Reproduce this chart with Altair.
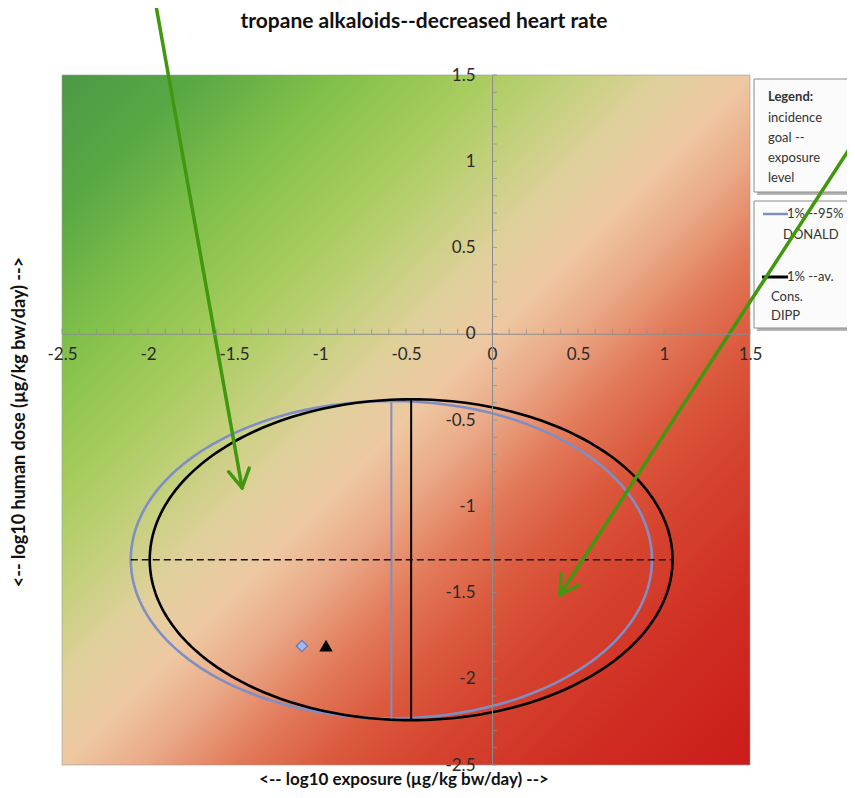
import numpy as np
import pandas as pd
import altair as alt

# ---------------- data ----------------
x_domain = [-2.5, 1.5]
y_domain = [-2.5, 1.5]
major_ticks = [-2.5, -2.0, -1.5, -1.0, -0.5, 0.0, 0.5, 1.0, 1.5]
minor_ticks = [round(-2.5 + 0.1 * i, 1) for i in range(41)]

ellipse_names = ["1% --95% DONALD", "1% --av. Cons. DIPP"]
ellipse_cx = [-0.585, -0.47]
ellipse_cy = [-1.31, -1.31]
ellipse_rx = [1.515, 1.52]
ellipse_ry = [0.92, 0.93]
ellipse_colors = ["#7f8ec4", "#000000"]

dash_x = [-2.10, 1.05]
dash_y = [-1.31, -1.31]

marker_x = [-1.105, -0.965]
marker_y = [-1.81, -1.81]
marker_shape = ["diamond", "triangle-up"]
marker_fill = ["#a4b8ec", "#000000"]
marker_stroke = ["#6878b8", "#000000"]

arrow_x0 = [-1.98, 2.20]
arrow_y0 = [2.05, 1.26]
arrow_x1 = [-1.453, 0.395]
arrow_y1 = [-0.893, -1.513]

title_text = "tropane alkaloids--decreased heart rate"
x_title = "<-- log10 exposure (µg/kg bw/day)  -->"
y_title = "<-- log10 human dose (µg/kg bw/day)  -->"
legend_header = ["Legend:", "incidence", "goal --", "exposure", "level"]
legend_entry_lines = [["1% --95%", "DONALD"], ["1% --av.", "Cons.", "DIPP"]]

# ---------------- layout ----------------
W, H = 688, 690
FONT = "Lato"
GREEN = "#41980f"

xs = alt.Scale(domain=x_domain, nice=False, zero=False)
ys = alt.Scale(domain=y_domain, nice=False, zero=False)
y0_px = (y_domain[1] - 0) / (y_domain[1] - y_domain[0]) * H
x0_px = (0 - x_domain[0]) / (x_domain[1] - x_domain[0]) * W

x_axis = alt.Axis(values=major_ticks, offset=-(H - y0_px), ticks=False, tickSize=0,
                  grid=False, domainColor="#8c8c8c", domainWidth=1,
                  labelFont=FONT, labelFontSize=17, labelColor="#2a2a2a",
                  labelPadding=13, labelFlush=False, labelOverlap=False,
                  labelExpr="toString(datum.value)", title=None, zindex=1)
y_axis = alt.Axis(values=major_ticks, offset=-x0_px, ticks=False, tickSize=0,
                  grid=False, domainColor="#8c8c8c", domainWidth=1,
                  labelFont=FONT, labelFontSize=17, labelColor="#2a2a2a",
                  labelPadding=17, labelFlush=False, labelOverlap=False,
                  labelExpr="toString(datum.value)", title=None, zindex=1)


def X(f):
    return alt.X(f, type="quantitative", scale=xs, axis=x_axis)


def Y(f):
    return alt.Y(f, type="quantitative", scale=ys, axis=y_axis)


# background gradient (green top-left -> beige diagonal -> red bottom-right)
stops = [(0.0, "#4c9846"), (0.1, "#5aa844"), (0.2, "#80c04a"), (0.3, "#a6cc5c"),
         (0.375, "#c4d07c"), (0.44, "#e0d09c"), (0.5, "#eec8a2"), (0.56, "#eaa886"),
         (0.625, "#e27a5a"), (0.69, "#db5a3e"), (0.75, "#d64630"), (0.875, "#cf2c22"),
         (1.0, "#cb1c1c")]
gradient = {"gradient": "linear", "x1": 0, "y1": 0, "x2": 1, "y2": 1,
            "stops": [{"offset": o, "color": c} for o, c in stops]}
bg_df = pd.DataFrame({"x": [x_domain[0]], "x2": [x_domain[1]],
                      "y": [y_domain[0]], "y2": [y_domain[1]]})
bg = alt.Chart(bg_df).mark_rect(fill=gradient, stroke="#9a9a9a", strokeWidth=0.6).encode(
    x=X("x"), x2="x2", y=Y("y"), y2="y2")

# minor ticks on the crossing axes
xt_df = pd.DataFrame({"x": minor_ticks, "y": [0.0] * len(minor_ticks)})
yt_df = pd.DataFrame({"x": [0.0] * len(minor_ticks), "y": minor_ticks})
xticks = alt.Chart(xt_df).mark_tick(orient="vertical", size=5, thickness=1,
                                    color="#8c8c8c", yOffset=-2.5).encode(x=X("x"), y=Y("y"))
yticks = alt.Chart(yt_df).mark_tick(orient="horizontal", size=5, thickness=1,
                                    color="#8c8c8c", xOffset=2.5).encode(x=X("x"), y=Y("y"))

# ellipses
rows = []
t = np.linspace(0, 2 * np.pi, 241)
for n, cx, cy, rx, ry in zip(ellipse_names, ellipse_cx, ellipse_cy, ellipse_rx, ellipse_ry):
    for i, tt in enumerate(t):
        rows.append({"name": n, "i": i, "x": cx + rx * np.cos(tt), "y": cy + ry * np.sin(tt)})
ell_df = pd.DataFrame(rows)
color_scale = alt.Scale(domain=ellipse_names, range=ellipse_colors)
ellipses = alt.Chart(ell_df).mark_line(strokeWidth=2.6).encode(
    x=X("x"), y=Y("y"), order="i:Q",
    color=alt.Color("name:N", scale=color_scale, legend=None))

# vertical lines through the ellipse centres
vl_df = pd.DataFrame({"name": ellipse_names, "x": ellipse_cx,
                      "y": [cy - ry for cy, ry in zip(ellipse_cy, ellipse_ry)],
                      "y2": [cy + ry for cy, ry in zip(ellipse_cy, ellipse_ry)]})
vlines = alt.Chart(vl_df).mark_rule(strokeWidth=2).encode(
    x=X("x"), y=Y("y"), y2="y2",
    color=alt.Color("name:N", scale=color_scale, legend=None))

# dashed horizontal line
dash_df = pd.DataFrame({"x": [dash_x[0]], "x2": [dash_x[1]], "y": [dash_y[0]]})
dash = alt.Chart(dash_df).mark_rule(color="#111111", strokeWidth=1.5, strokeDash=[7, 4]).encode(
    x=X("x"), x2="x2", y=Y("y"))

# markers
mk_df = pd.DataFrame({"x": marker_x, "y": marker_y, "shape": marker_shape,
                      "fill": marker_fill, "stroke": marker_stroke})
markers = alt.Chart(mk_df).mark_point(filled=True, size=130, strokeWidth=1.2, opacity=1).encode(
    x=X("x"), y=Y("y"),
    shape=alt.Shape("shape:N", scale=None),
    fill=alt.Fill("fill:N", scale=None),
    stroke=alt.Stroke("stroke:N", scale=None))

# green annotation arrows
sx = W / (x_domain[1] - x_domain[0])
sy = H / (y_domain[1] - y_domain[0])
ar_rows = []
head_rows = []
for a0, b0, a1, b1 in zip(arrow_x0, arrow_y0, arrow_x1, arrow_y1):
    ar_rows.append({"x": a0, "y": b0, "x2": a1, "y2": b1})
    dxp, dyp = (a0 - a1) * sx, -(b0 - b1) * sy
    L = np.hypot(dxp, dyp)
    ux, uy = dxp / L, dyp / L
    for ang in (np.radians(30), -np.radians(30)):
        rx_ = ux * np.cos(ang) - uy * np.sin(ang)
        ry_ = ux * np.sin(ang) + uy * np.cos(ang)
        head_rows.append({"x": a1, "y": b1, "x2": a1 + rx_ * 21 / sx, "y2": b1 - ry_ * 21 / sy})
arrows = alt.Chart(pd.DataFrame(ar_rows)).mark_rule(color=GREEN, strokeWidth=3.5, strokeCap="round").encode(
    x=X("x"), y=Y("y"), x2="x2", y2="y2")
heads = alt.Chart(pd.DataFrame(head_rows)).mark_rule(color=GREEN, strokeWidth=3.5, strokeCap="round").encode(
    x=X("x"), y=Y("y"), x2="x2", y2="y2")

one = pd.DataFrame({"a": [0]})


def rect_px(x1, x2, y1, y2, **kw):
    return alt.Chart(one).mark_rect(**kw).encode(
        x=alt.value(x1), x2=alt.value(x2), y=alt.value(y1), y2=alt.value(y2))


def text_px(txt, x, y, size=13, bold=False, align="left", angle=0, color="#333333"):
    return alt.Chart(one).mark_text(
        text=txt, font=FONT, fontSize=size, fontWeight="bold" if bold else "normal",
        align=align, baseline="middle", angle=angle, color=color).encode(
        x=alt.value(x), y=alt.value(y))


def rule_px(x1, x2, y, color, width):
    return alt.Chart(one).mark_rule(color=color, strokeWidth=width).encode(
        x=alt.value(x1), x2=alt.value(x2), y=alt.value(y))


# legend boxes
legend_layers = [
    rect_px(695, 800, 7, 120, fill="#b5b5b5"),
    rect_px(692, 800, 4, 117, fill="#fbfbfb", stroke="#8a8a8a", strokeWidth=1),
    rect_px(695, 800, 129, 256, fill="#b5b5b5"),
    rect_px(692, 800, 126, 253, fill="#fbfbfb", stroke="#8a8a8a", strokeWidth=1),
    text_px(legend_header[0], 706, 22, bold=True),
]
for k, line in enumerate(legend_header[1:]):
    legend_layers.append(text_px(line, 706, 43 + 20 * k))
legend_layers.append(rule_px(701, 726, 139, ellipse_colors[0], 2.5))
legend_layers.append(rule_px(700, 726, 202, ellipse_colors[1], 3))
legend_layers.append(text_px(legend_entry_lines[0][0], 725, 139))
legend_layers.append(text_px(legend_entry_lines[0][1], 721, 160))
legend_layers.append(text_px(legend_entry_lines[1][0], 725, 202))
legend_layers.append(text_px(legend_entry_lines[1][1], 709, 222))
legend_layers.append(text_px(legend_entry_lines[1][2], 709, 241))

titles = [
    text_px(title_text, 362, -53, size=21, bold=True, align="center", color="#111111"),
    text_px(x_title, 342, 705, size=17, bold=True, align="center", color="#111111"),
    text_px(y_title, -42, 347, size=18, bold=True, align="center", angle=270, color="#111111"),
]

chart = alt.layer(
    bg, xticks, yticks, ellipses, vlines, dash, markers,
    *legend_layers, arrows, heads, *titles
).properties(
    width=W, height=H,
    padding={"left": 54, "top": 67, "right": 97, "bottom": 25},
    autosize=alt.AutoSizeParams(type="none"),
).configure_view(stroke=None)

chart.save("out.html", embed_options={"renderer": "svg", "actions": False})
